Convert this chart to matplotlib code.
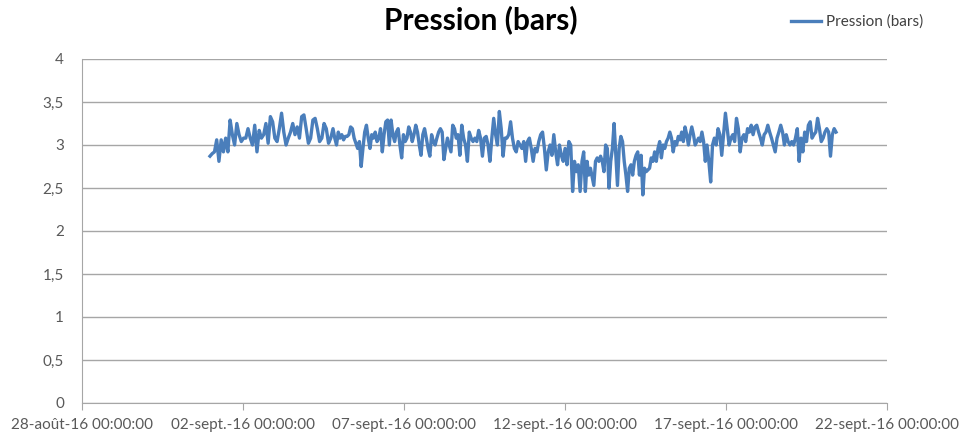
import numpy as np
import pandas as pd
import matplotlib
matplotlib.use("Agg")
import matplotlib.pyplot as plt

# pressure readings (bars) in five consecutive stretches
seg1 = [2.87, 2.90, 2.92, 3.06, 2.81, 3.06, 2.92, 3.08, 2.92, 3.29, 3.12, 3.00, 3.25, 3.12,
        3.04, 3.08, 3.08, 3.19, 3.08, 3.00, 3.23, 2.92, 3.17, 3.08, 3.12, 3.25, 3.02, 3.33,
        3.27, 3.08, 3.04, 3.19, 3.37, 3.15, 3.00, 3.08, 3.15, 3.25, 3.12, 3.21, 3.08, 3.33,
        3.35, 3.19, 3.02, 3.08, 3.29, 3.31, 3.19, 3.04, 3.08, 3.25, 3.19, 3.02, 3.08]
seg2 = [3.19, 3.08, 3.00, 3.15, 3.08, 3.12, 3.06, 3.10, 3.10, 3.12, 3.21, 3.19, 3.08, 3.02,
        2.96, 3.04, 2.75, 2.96, 3.15, 3.23, 3.08, 2.96, 3.12, 3.08, 3.15, 3.04, 3.08, 3.19,
        2.92, 3.12, 3.27, 3.29, 3.00, 3.29, 3.12, 3.04, 3.15, 3.19, 3.00, 2.85, 3.12, 3.04,
        3.08, 3.21, 3.15, 3.04, 3.12, 3.23, 3.15, 3.00, 2.88, 3.12, 3.19, 3.08, 2.96, 2.87,
        3.12, 3.04, 3.00, 3.08, 3.15, 3.19, 3.15, 2.83, 2.96, 3.08, 3.00, 2.92, 3.23, 3.19, 3.08]
seg3 = [3.12, 2.88, 3.23, 3.08, 3.00, 2.81, 3.15, 3.08, 3.04, 3.08, 3.04, 3.17, 3.08, 2.87,
        3.08, 3.10, 3.00, 2.81, 3.08, 3.31, 3.12, 3.00, 3.39, 3.19, 2.87, 3.08, 3.08, 3.12,
        3.27, 3.08, 2.96, 2.92, 3.04, 3.00, 2.96, 3.04, 2.81, 3.04, 3.08, 2.96, 2.81, 2.96,
        2.92, 3.04, 3.12, 3.15, 2.96, 2.71, 2.92, 3.00, 2.88, 3.12, 2.92, 2.77, 3.00, 2.88,
        2.81, 2.96, 2.77, 3.04, 3.00, 2.46, 2.81, 2.69, 2.77, 2.46]
seg4 = [2.81, 2.92, 2.46, 2.81, 2.65, 2.73, 2.63, 2.53, 2.81, 2.85, 2.81, 2.87, 2.81, 2.69,
        3.00, 2.96, 2.50, 2.81, 2.96, 3.25, 2.88, 2.53, 2.96, 3.10, 3.04, 2.81, 2.65, 2.46,
        2.73, 2.77, 2.65, 2.81, 2.88, 2.92, 2.65, 2.88, 2.42, 2.73, 2.69, 2.71, 2.73, 2.85,
        2.81, 2.92, 2.81, 2.96, 3.04, 2.85, 3.00, 2.96, 3.04, 3.08, 3.15, 3.08, 2.92, 3.04,
        3.00, 3.10, 3.06, 3.15, 3.04, 3.21, 3.12, 3.00, 3.12, 3.21, 3.12, 3.00, 3.04, 3.08,
        3.04, 3.15, 3.04, 2.81]
seg5 = [3.00, 2.81, 2.57, 3.00, 3.08, 3.00, 3.19, 3.12, 2.88, 3.12, 3.37, 3.19, 3.00, 3.08,
        3.12, 3.04, 3.31, 3.19, 2.92, 3.08, 3.12, 3.04, 3.19, 3.15, 3.23, 3.12, 3.21, 3.23,
        3.15, 3.08, 3.00, 3.12, 3.15, 3.23, 3.15, 3.08, 3.00, 2.92, 3.08, 3.15, 3.23, 3.15,
        3.00, 3.12, 3.04, 3.00, 3.04, 3.00, 3.08, 3.19, 2.81, 3.08, 2.92, 3.15, 3.04, 3.23,
        3.27, 3.08, 3.12, 3.15, 3.31, 3.19, 3.04, 3.08, 3.15, 3.19, 3.15, 2.87, 3.12, 3.19, 3.15]
segments = [seg1, seg2, seg3, seg4, seg5]
seg_bounds = pd.to_datetime(["2016-08-31 23:24", "2016-09-04 19:05", "2016-09-08 16:15",
                             "2016-09-12 12:40", "2016-09-16 09:50", "2016-09-20 10:00"])

x_ticks = pd.to_datetime(["2016-08-28", "2016-09-02", "2016-09-07",
                          "2016-09-12", "2016-09-17", "2016-09-22"])
x_labels = ["28-août-16 00:00:00", "02-sept.-16 00:00:00", "07-sept.-16 00:00:00",
            "12-sept.-16 00:00:00", "17-sept.-16 00:00:00", "22-sept.-16 00:00:00"]
y_ticks = [0, 0.5, 1, 1.5, 2, 2.5, 3, 3.5, 4]
y_labels = ["0", "0,5", "1", "1,5", "2", "2,5", "3", "3,5", "4"]

times = []
values = []
for i, seg in enumerate(segments):
    t0, t1 = seg_bounds[i], seg_bounds[i + 1]
    last = i == len(segments) - 1
    times.extend(pd.date_range(t0, t1, periods=len(seg) + (0 if last else 1))[:len(seg)])
    values.extend(seg)

plt.rcParams['font.family'] = ['Lato', 'DejaVu Sans']
grey_txt = '#595959'
grid_col = '#a6a6a6'

fig = plt.figure(figsize=(9.63, 4.37), dpi=100)
ax = fig.add_axes([82 / 963, 1 - 403 / 437, (887 - 82) / 963, (403 - 59) / 437])

ax.plot(times, values, color='#4a7ebb', linewidth=2.4, label='Pression (bars)')

ax.set_xlim(x_ticks[0], x_ticks[-1])
ax.set_ylim(0, 4)
ax.set_yticks(y_ticks)
ax.set_yticklabels(y_labels)
ax.set_xticks(x_ticks)
ax.set_xticklabels(x_labels)

ax.grid(axis='y', color=grid_col, linewidth=1)
ax.set_axisbelow(True)
for side in ['top', 'right']:
    ax.spines[side].set_visible(False)
for side in ['left', 'bottom']:
    ax.spines[side].set_color(grid_col)
ax.tick_params(axis='y', length=0, pad=13, labelsize=11, labelcolor=grey_txt)
ax.tick_params(axis='x', length=5, color=grid_col, pad=6, labelsize=11, labelcolor=grey_txt)

fig.text(481 / 963, 1 - 20 / 437, 'Pression (bars)', ha='center', va='center',
         fontsize=21.5, fontweight='bold', color='black')
fig.legend(loc='center left', bbox_to_anchor=(777 / 963, 1 - 22 / 437), frameon=False,
           fontsize=11, handlelength=2.0, handletextpad=0.3, labelcolor='#404040')

fig.savefig('out.png', dpi=100, facecolor='white')
